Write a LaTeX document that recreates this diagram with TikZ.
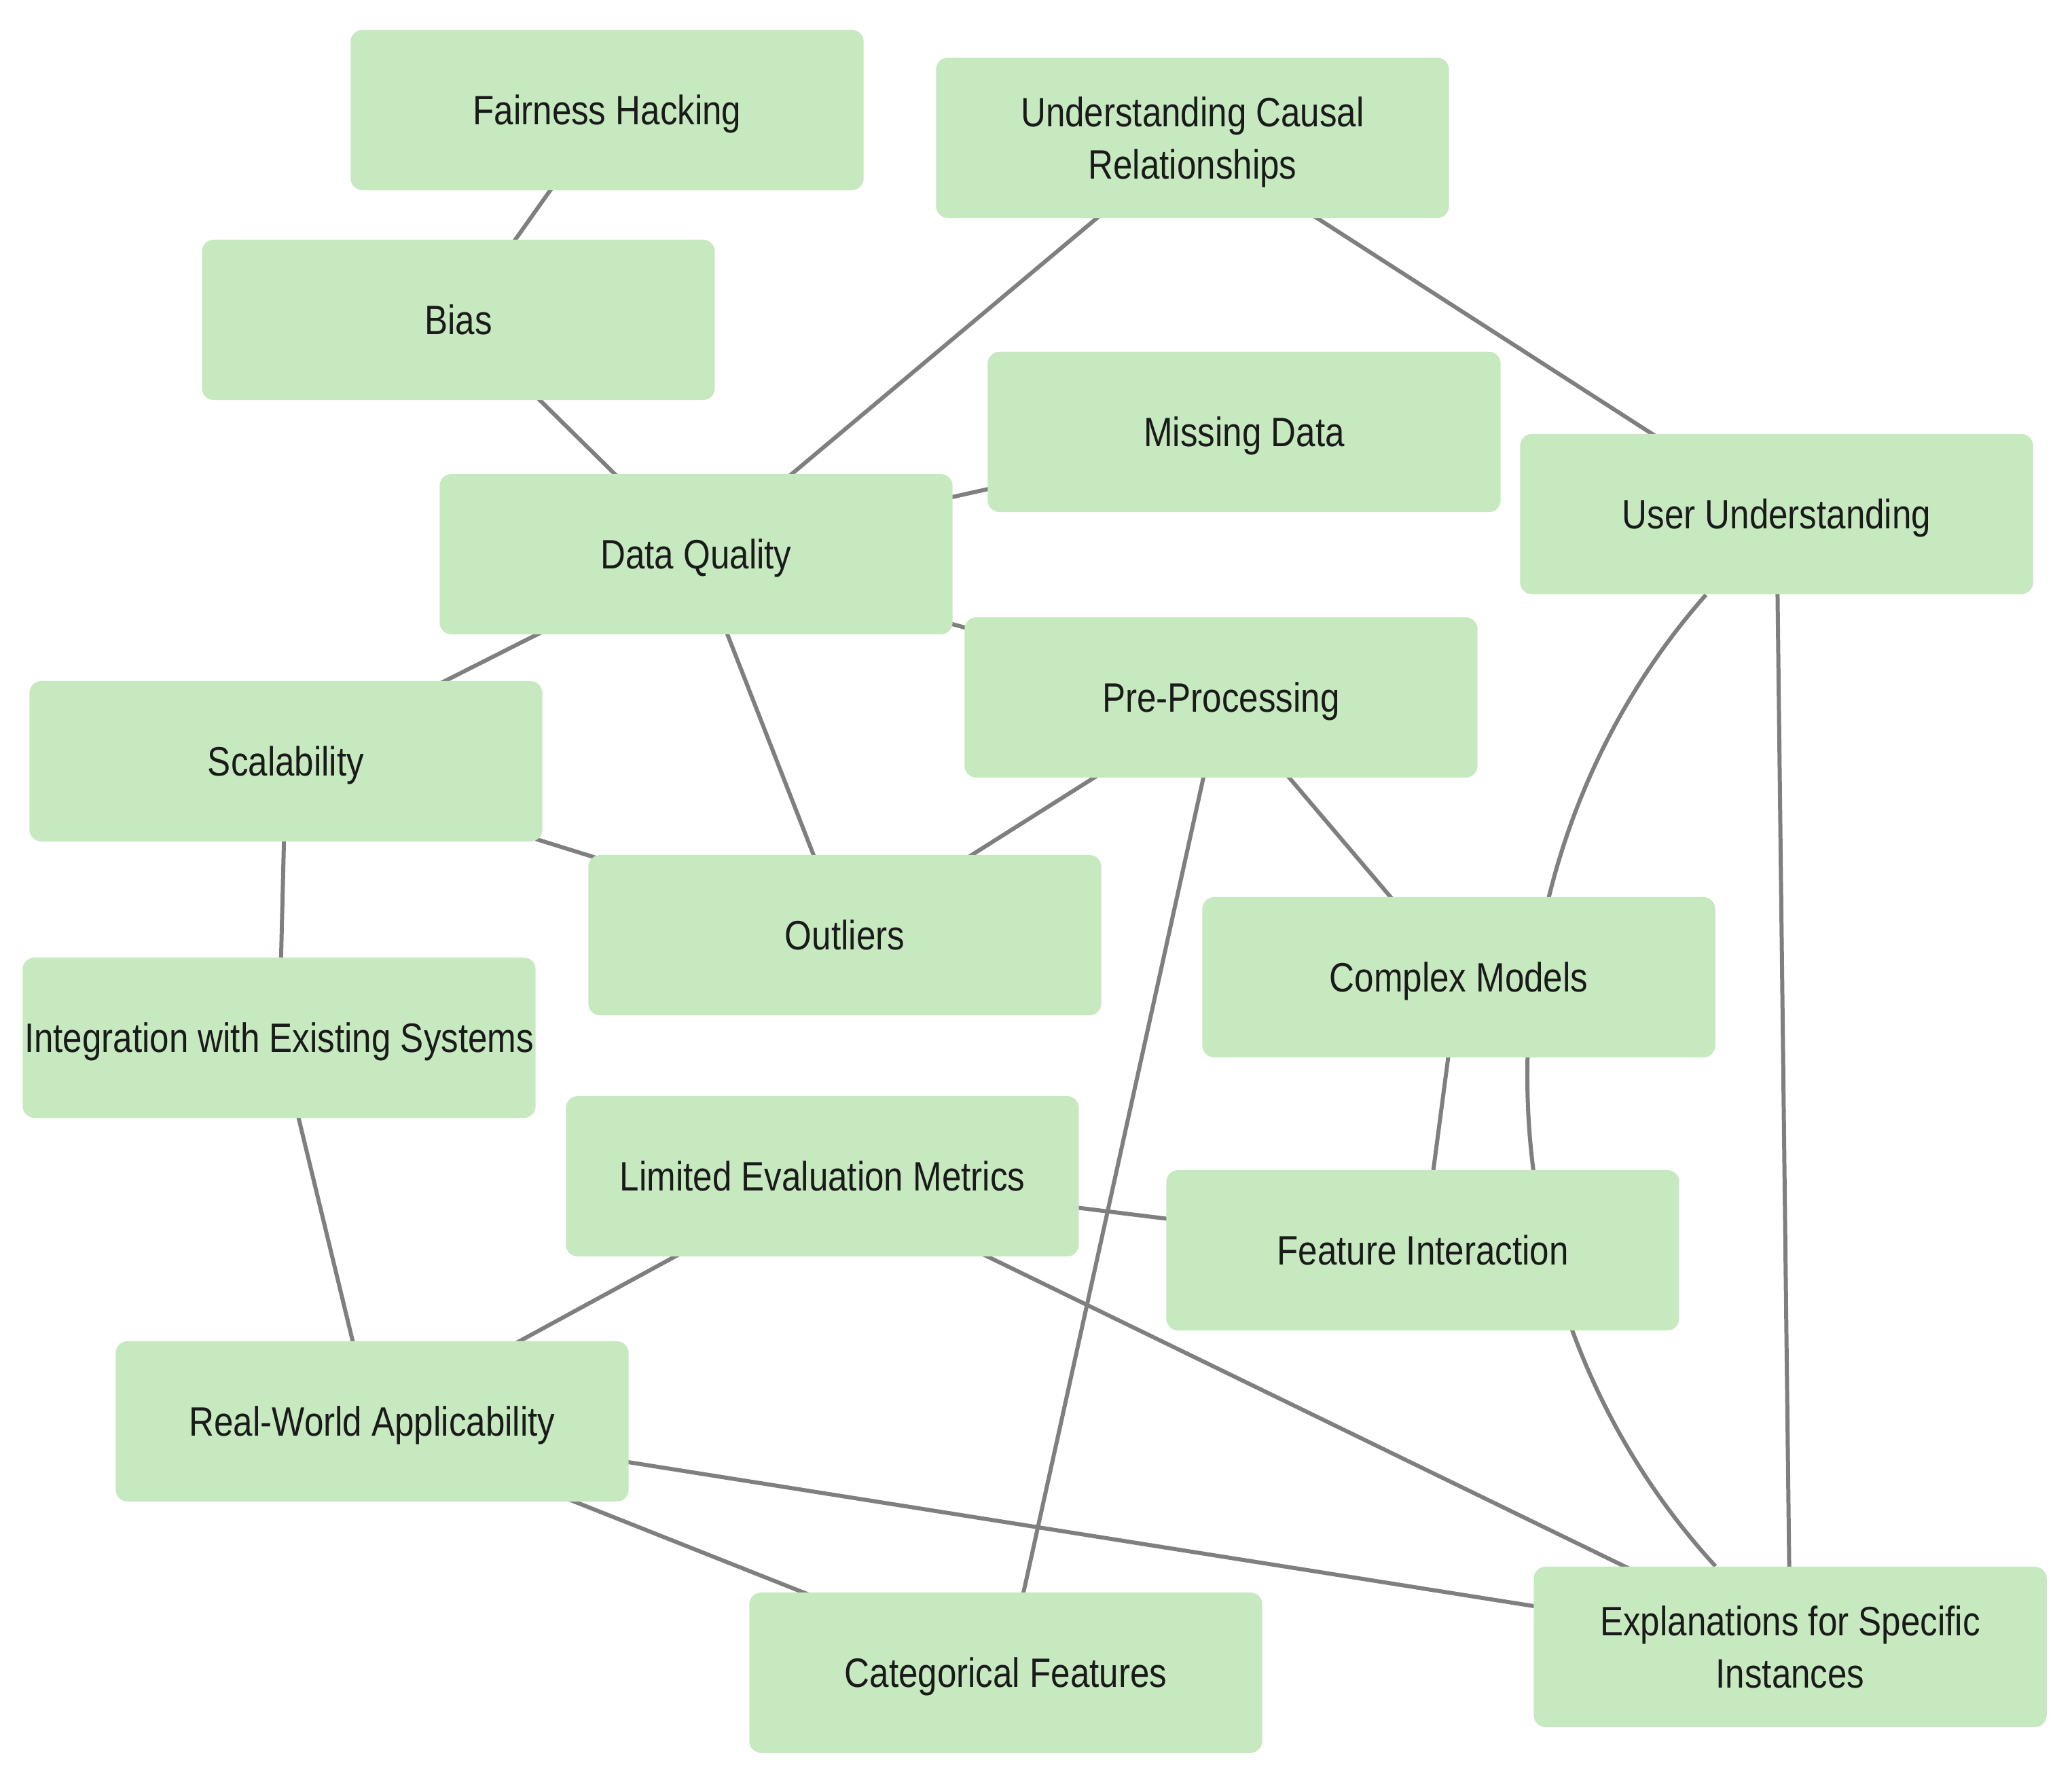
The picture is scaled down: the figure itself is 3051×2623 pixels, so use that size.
\documentclass[tikz,border=0pt]{standalone}
\usepackage{fontspec}
\setmainfont{Liberation Sans}[FakeStretch=0.845]
\usetikzlibrary{backgrounds,calc}
\definecolor{boxgreen}{HTML}{C7E9C0}
\definecolor{edgegray}{HTML}{7F7F7F}
\definecolor{textdark}{HTML}{1A1A1A}
\begin{document}
\begin{tikzpicture}[x=0.01cm,y=-0.01cm,
  box/.style={fill=boxgreen, draw=none, rounded corners=5pt, minimum width=7.55cm,
    minimum height=2.36cm, inner sep=0pt, align=center, text=textdark,
    font=\fontsize{17.2}{21.9}\selectfont},
  oneline/.style={text height=12.3pt, text depth=0pt},
  edge/.style={draw=edgegray, line width=1.7pt}]
\useasboundingbox (0,0) rectangle (3051,2623);

\node[box,oneline] (fh)   at (894,162)   {Fairness Hacking};
\node[box]         (ucr)  at (1756,203)  {Understanding Causal\\Relationshi\smash{p}s};
\node[box,oneline] (bias) at (675,471)   {Bias};
\node[box,oneline] (md)   at (1832,636)  {Missing Data};
\node[box,oneline] (uu)   at (2616,757)  {User Understanding};
\node[box,oneline] (dq)   at (1025,816)  {Data Quality};
\node[box,oneline] (pp)   at (1798,1027) {Pre-Processing};
\node[box,oneline] (sc)   at (421,1121)  {Scalability};
\node[box,oneline] (out)  at (1244,1377) {Outliers};
\node[box,oneline] (cm)   at (2148,1439) {Complex Models};
\node[box,oneline] (int)  at (411,1528)  {Integration with Existing Systems};
\node[box,oneline] (lem)  at (1211,1732) {Limited Evaluation Metrics};
\node[box,oneline] (fi)   at (2095,1841) {Feature Interaction};
\node[box,oneline] (rw)   at (548,2093)  {Real-World Applicability};
\node[box,oneline] (cf)   at (1481,2463) {Categorical Features};
\node[box]         (ex)   at (2636,2425) {Explanations for Specific\\Instances};

\begin{pgfonlayer}{background}
\draw[edge] (fh.center) -- (bias.center);
\draw[edge] (bias.center) -- (dq.center);
\draw[edge] (ucr.center) -- (dq.center);
\draw[edge] (ucr.center) -- (uu.center);
\draw[edge] (md.center) -- (dq.center);
\draw[edge] (dq.center) -- (pp.center);
\draw[edge] (dq.center) -- (sc.center);
\draw[edge] (dq.center) -- (out.center);
\draw[edge] (sc.center) -- (out.center);
\draw[edge] (sc.center) -- (int.center);
\draw[edge] (pp.center) -- (out.center);
\draw[edge] (pp.center) -- (cf.center);
\draw[edge] (pp.center) -- (cm.center);
\draw[edge] (uu.center) -- (ex.center);
\draw[edge] ($(uu.south)+(-104,0)$) .. controls ($(uu.south)+(-457,400)$) and ($(ex.north)+(-477,-400)$) .. ($(ex.north)+(-110,0)$);
\draw[edge] (cm.center) -- (fi.center);
\draw[edge] (lem.center) -- (fi.center);
\draw[edge] (lem.center) -- (rw.center);
\draw[edge] (lem.center) -- (ex.center);
\draw[edge] (rw.center) -- (ex.center);
\draw[edge] (rw.center) -- (cf.center);
\draw[edge] (int.center) -- (rw.center);
\end{pgfonlayer}
\end{tikzpicture}
\end{document}
